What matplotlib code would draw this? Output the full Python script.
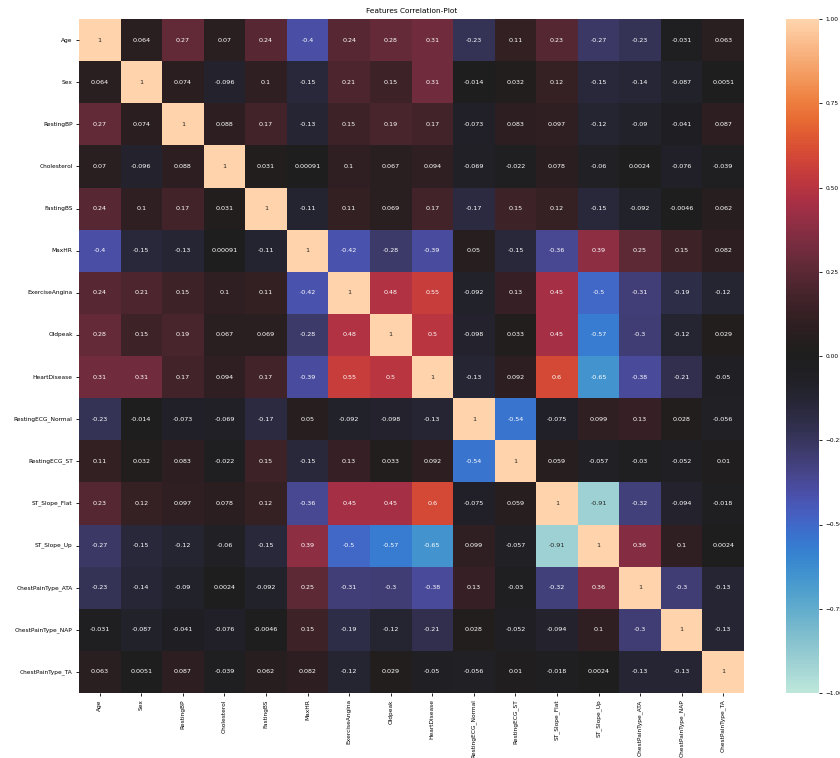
import numpy as np
import pandas as pd
import seaborn as sns
from matplotlib import pyplot as plt

# feature names (rows and columns of the correlation matrix)
features = ['Age', 'Sex', 'RestingBP', 'Cholesterol', 'FastingBS', 'MaxHR',
            'ExerciseAngina', 'Oldpeak', 'HeartDisease', 'RestingECG_Normal',
            'RestingECG_ST', 'ST_Slope_Flat', 'ST_Slope_Up', 'ChestPainType_ATA',
            'ChestPainType_NAP', 'ChestPainType_TA']

age = [1, 0.064, 0.27, 0.07, 0.24, -0.4, 0.24, 0.28, 0.31, -0.23, 0.11, 0.23, -0.27, -0.23, -0.031, 0.063]
sex = [0.064, 1, 0.074, -0.096, 0.1, -0.15, 0.21, 0.15, 0.31, -0.014, 0.032, 0.12, -0.15, -0.14, -0.087, 0.0051]
resting_bp = [0.27, 0.074, 1, 0.088, 0.17, -0.13, 0.15, 0.19, 0.17, -0.073, 0.083, 0.097, -0.12, -0.09, -0.041, 0.087]
cholesterol = [0.07, -0.096, 0.088, 1, 0.031, 0.00091, 0.1, 0.067, 0.094, -0.069, -0.022, 0.078, -0.06, 0.0024, -0.076, -0.039]
fasting_bs = [0.24, 0.1, 0.17, 0.031, 1, -0.11, 0.11, 0.069, 0.17, -0.17, 0.15, 0.12, -0.15, -0.092, -0.0046, 0.062]
max_hr = [-0.4, -0.15, -0.13, 0.00091, -0.11, 1, -0.42, -0.28, -0.39, 0.05, -0.15, -0.36, 0.39, 0.25, 0.15, 0.082]
exercise_angina = [0.24, 0.21, 0.15, 0.1, 0.11, -0.42, 1, 0.48, 0.55, -0.092, 0.13, 0.45, -0.5, -0.31, -0.19, -0.12]
oldpeak = [0.28, 0.15, 0.19, 0.067, 0.069, -0.28, 0.48, 1, 0.5, -0.098, 0.033, 0.45, -0.57, -0.3, -0.12, 0.029]
heart_disease = [0.31, 0.31, 0.17, 0.094, 0.17, -0.39, 0.55, 0.5, 1, -0.13, 0.092, 0.6, -0.65, -0.38, -0.21, -0.05]
ecg_normal = [-0.23, -0.014, -0.073, -0.069, -0.17, 0.05, -0.092, -0.098, -0.13, 1, -0.54, -0.075, 0.099, 0.13, 0.028, -0.056]
ecg_st = [0.11, 0.032, 0.083, -0.022, 0.15, -0.15, 0.13, 0.033, 0.092, -0.54, 1, 0.059, -0.057, -0.03, -0.052, 0.01]
slope_flat = [0.23, 0.12, 0.097, 0.078, 0.12, -0.36, 0.45, 0.45, 0.6, -0.075, 0.059, 1, -0.91, -0.32, -0.094, -0.018]
slope_up = [-0.27, -0.15, -0.12, -0.06, -0.15, 0.39, -0.5, -0.57, -0.65, 0.099, -0.057, -0.91, 1, 0.36, 0.1, 0.0024]
cp_ata = [-0.23, -0.14, -0.09, 0.0024, -0.092, 0.25, -0.31, -0.3, -0.38, 0.13, -0.03, -0.32, 0.36, 1, -0.3, -0.13]
cp_nap = [-0.031, -0.087, -0.041, -0.076, -0.0046, 0.15, -0.19, -0.12, -0.21, 0.028, -0.052, -0.094, 0.1, -0.3, 1, -0.13]
cp_ta = [0.063, 0.0051, 0.087, -0.039, 0.062, 0.082, -0.12, 0.029, -0.05, -0.056, 0.01, -0.018, 0.0024, -0.13, -0.13, 1]

rows = [age, sex, resting_bp, cholesterol, fasting_bs, max_hr, exercise_angina,
        oldpeak, heart_disease, ecg_normal, ecg_st, slope_flat, slope_up,
        cp_ata, cp_nap, cp_ta]
corr = pd.DataFrame(rows, index=features, columns=features)

fig = plt.figure(figsize=(8.4, 7.58), dpi=100)
ax = fig.add_axes([79/840, 65/758, 665/840, 674/758])
cax = fig.add_axes([786/840, 65/758, 33/840, 674/758])

sns.heatmap(corr, annot=True, cmap='icefire', vmin=-1, vmax=1,
            ax=ax, cbar_ax=cax, annot_kws={'size': 4.6})

#small fonts, the original was a big figure shrunk down
ax.set_title('Features Correlation-Plot', fontsize=5.3, pad=4)
ax.tick_params(labelsize=4.2, length=2.5, width=0.6, pad=2)
ax.set_xticklabels(features, rotation=90)
ax.set_yticklabels(features, rotation=0)
cax.tick_params(labelsize=4.2, length=2.5, width=0.6, pad=2)
cax.set_yticks([-1, -0.75, -0.5, -0.25, 0, 0.25, 0.5, 0.75, 1])
cax.set_yticklabels(['−1.00', '−0.75', '−0.50', '−0.25', '0.00', '0.25', '0.50', '0.75', '1.00'])

plt.savefig('out.png', dpi=100)
